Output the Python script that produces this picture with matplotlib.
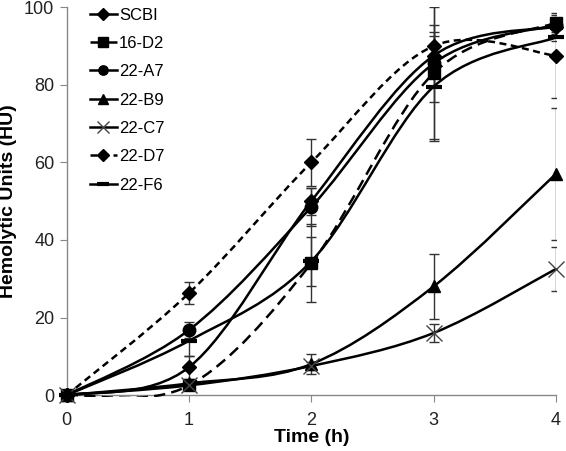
import numpy as np
import matplotlib
matplotlib.use("Agg")
import matplotlib.pyplot as plt
from matplotlib.path import Path
from matplotlib.patches import PathPatch, Rectangle
from matplotlib.lines import Line2D

plt.rcParams['font.family'] = ['Liberation Sans', 'DejaVu Sans']

time_h = [0, 1, 2, 3, 4]
labels = ["SCBI", "16-D2", "22-A7", "22-B9", "22-C7", "22-D7", "22-F6"]

scbi  = [0, 7.2, 50.0, 87.5, 95.0]
d2_16 = [0, 2.5, 34.0, 83.0, 96.0]
a7_22 = [0, 16.8, 48.5, 85.5, 95.5]
b9_22 = [0, 3.0, 8.0, 28.0, 57.0]
c7_22 = [0, 2.5, 7.5, 16.0, 32.5]
d7_22 = [0, 26.3, 60.0, 90.0, 87.5]
f6_22 = [0, 14.0, 34.5, 79.5, 92.2]

scbi_err  = [0.5, 3.0, 3.5, 5.0, 1.5]
d2_16_err = [0.5, 1.0, 10.0, 17.0, 2.0]
a7_22_err = [0.5, 2.0, 5.0, 10.0, 1.5]
b9_22_err = [0.3, 0.8, 2.5, 8.5, 17.0]
c7_22_err = [0.3, 0.5, 1.0, 2.3, 5.7]
d7_22_err = [0.5, 2.8, 6.0, 10.5, 11.0]
f6_22_err = [0.5, 3.8, 6.3, 14.0, 1.0]

series = [scbi, d2_16, a7_22, b9_22, c7_22, d7_22, f6_22]
errors = [scbi_err, d2_16_err, a7_22_err, b9_22_err, c7_22_err, d7_22_err, f6_22_err]
markers = ["D", "s", "o", "^", "x", "D", "_"]
msizes = [7.5, 9, 9, 9, 11, 7.5, 12]
styles = ["-", (0, (4.5, 2.5)), "-", "-", "-", (0, (2.8, 1.8)), "-"]


def smooth_path(x, y):
    # Excel-like smoothed line: cubic bezier through each point
    pts = np.column_stack([x, y]).astype(float)
    n = len(pts)
    verts = [pts[0]]
    codes = [Path.MOVETO]
    for i in range(n - 1):
        p0 = pts[i - 1] if i > 0 else pts[i]
        p3 = pts[i + 2] if i + 2 < n else pts[i + 1]
        c1 = pts[i] + (pts[i + 1] - p0) / 6
        c2 = pts[i + 1] - (p3 - pts[i]) / 6
        verts += [c1, c2, pts[i + 1]]
        codes += [Path.CURVE4] * 3
    return Path(verts, codes)


fig = plt.figure(figsize=(5.66, 4.51), dpi=100)
ax = fig.add_axes([0.118, 0.124, 0.864, 0.860])

# clip slightly past the plot area so curves running under 0 show along the axis
clip = Rectangle((0, -0.004), 1, 1.02, transform=ax.transAxes, facecolor="none")

for vals, err in zip(series, errors):
    ax.errorbar(time_h, vals, yerr=err, fmt="none", ecolor="#333333",
                elinewidth=1.0, capsize=3.5, capthick=1.0, zorder=2)

handles = []
for vals, lab, m, ms, ls in zip(series, labels, markers, msizes, styles):
    patch = PathPatch(smooth_path(time_h, vals), facecolor="none",
                      edgecolor="black", lw=1.8, linestyle=ls, zorder=3)
    ax.add_patch(patch)
    patch.set_clip_path(clip)
    mew = 1.0 if m == "x" else (3.0 if m == "_" else 1.0)
    mc = "#444444" if m == "x" else "black"
    ax.plot(time_h, vals, linestyle="none", marker=m, markersize=ms,
            color=mc, markeredgewidth=mew, zorder=4, clip_on=False)
    handles.append(Line2D([], [], color="black", lw=1.8, linestyle=ls,
                          marker=m, markersize=ms * 0.75, markeredgewidth=mew,
                          markeredgecolor=mc, markerfacecolor=mc, label=lab))

ax.set_xlim(0, 4)
ax.set_ylim(0, 100)
ax.set_xticks([0, 1, 2, 3, 4])
ax.set_yticks([0, 20, 40, 60, 80, 100])
ax.set_xlabel("Time (h)", fontsize=14, fontweight="bold", labelpad=0)
ax.set_ylabel("Hemolytic Units (HU)", fontsize=14, fontweight="bold", labelpad=5)

for side in ["top", "right"]:
    ax.spines[side].set_visible(False)
for side in ["left", "bottom"]:
    ax.spines[side].set_color("#888888")
    ax.spines[side].set_linewidth(1.0)
ax.tick_params(axis="both", direction="out", length=5, color="#888888",
               labelsize=13, labelcolor="#222222")
ax.tick_params(axis="x", pad=7)
ax.tick_params(axis="y", pad=4)

ax.legend(handles=handles, loc="upper left", bbox_to_anchor=(0.027, 1.025),
          frameon=False, fontsize=12, handlelength=1.6, handletextpad=0.15,
          labelspacing=0.8, borderaxespad=0.2)

fig.savefig("out.png", dpi=100)
